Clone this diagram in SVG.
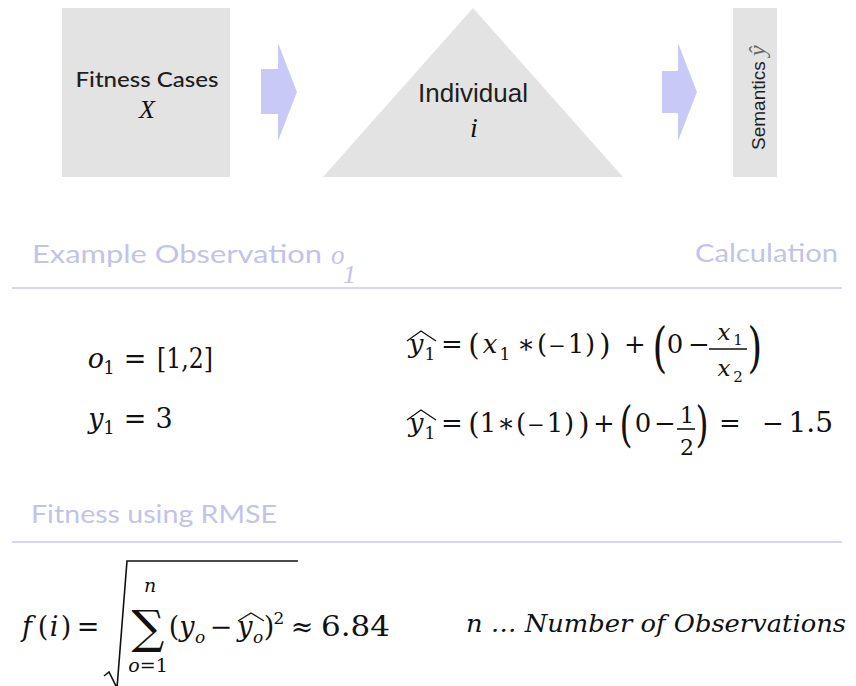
<svg xmlns="http://www.w3.org/2000/svg" width="856" height="686" viewBox="0 0 856 686">
<style>
.box{fill:#e3e3e3}
.arrow{fill:#c9c9f7}
.hdr{font-family:Lato,"Open Sans",sans-serif;font-size:25px;fill:#c3c3ea}
.rule{stroke:#c8c8e6;stroke-width:1.5}
.lbl{font-family:Lato,"Liberation Sans",sans-serif;fill:#1e1e1e}
.hv{font-family:"Liberation Sans",Arial,sans-serif;fill:#1e1e1e}
.m{font-family:"DejaVu Serif","Liberation Serif",serif;fill:#111}
.i{font-style:italic}
.c{text-anchor:middle}
.hat{fill:none;stroke:#111;stroke-width:1.3}
</style>
<rect width="856" height="686" fill="#ffffff"/>

<g id="fitness-cases">
<rect class="box" x="62" y="8" width="168" height="169"/>
<text class="lbl c" x="147" y="87" font-size="22" font-weight="500" textLength="143" lengthAdjust="spacingAndGlyphs">Fitness Cases</text>
<text class="m i c" x="147" y="118" font-size="26" fill="#333" style="font-family:'Liberation Serif',serif">X</text>
</g>

<g id="individual">
<polygon class="box" points="473,8 623,177 323,177"/>
<text class="hv c" x="473" y="102" font-size="26">Individual</text>
<text class="m i c" x="474" y="137" font-size="28" fill="#333" style="font-family:'Liberation Serif',serif">i</text>
</g>

<g id="semantics">
<rect class="box" x="733" y="8" width="44" height="169"/>
<text class="hv" transform="translate(765,150) rotate(-90)" font-size="19">Semantics <tspan class="i" font-size="24" fill="#666" style="font-family:'Liberation Serif',serif">ŷ</tspan></text>
</g>

<g id="connectors">
<polygon class="arrow" points="261,69 278,69 278,43 297,92 278,141 278,114 261,114"/>
<polygon class="arrow" points="662,71 678,71 678,43 697,92 678,141 678,113 662,113"/>
</g>

<g id="headers">
<text class="hdr" x="32" y="263" textLength="290" lengthAdjust="spacingAndGlyphs">Example Observation</text>
<text class="i" x="331" y="264" font-size="27" fill="#c3c3ea" style="font-family:'Liberation Serif',serif">o</text>
<text class="i" x="343" y="283" font-size="26" fill="#c3c3ea" style="font-family:'Liberation Serif',serif">1</text>
<text class="hdr" x="695" y="262" textLength="143" lengthAdjust="spacingAndGlyphs">Calculation</text>
<line class="rule" x1="12" y1="288" x2="842" y2="288"/>
<text class="hdr" x="31" y="523" textLength="246" lengthAdjust="spacingAndGlyphs">Fitness using RMSE</text>
<line class="rule" x1="12" y1="542" x2="842" y2="542"/>
</g>

<g id="observation" class="m" font-size="27">
<text class="i c" x="96" y="368">o</text>
<text class="c" x="109" y="374" font-size="18">1</text>
<text class="c" x="135" y="368">=</text>
<text x="157" y="368" textLength="56" lengthAdjust="spacingAndGlyphs">[1,2]</text>
<text class="i c" x="96" y="428">y</text>
<text class="c" x="109" y="434" font-size="18">1</text>
<text class="c" x="135" y="428">=</text>
<text class="c" x="164" y="428">3</text>
</g>

<g id="calc1" class="m" font-size="26">
<text class="i c" x="416" y="353">y</text>
<text class="c" x="430" y="360" font-size="17">1</text>
<path class="hat" d="M407,341 L421,331 L436,341"/>
<text class="c" x="452" y="353">=</text>
<text class="c" x="474" y="355" font-size="29">(</text>
<text class="i c" x="490" y="353">x</text>
<text class="c" x="505" y="360" font-size="17">1</text>
<text class="c" x="526" y="353">∗</text>
<text class="c" x="542" y="353">(</text>
<text class="c" x="557" y="353" font-size="21">−</text>
<text class="c" x="576" y="353">1</text>
<text class="c" x="590" y="353">)</text>
<text class="c" x="605" y="355" font-size="29">)</text>
<text class="c" x="635" y="353">+</text>
<text class="c" x="660" y="366" font-size="54" transform="translate(660,0) scale(0.7,1) translate(-660,0)">(</text>
<text class="c" x="675" y="353">0</text>
<text class="c" x="699" y="353">−</text>
<line x1="709" y1="349" x2="747" y2="349" stroke="#111" stroke-width="1.6"/>
<text class="i c" x="724" y="340" font-size="23">x</text>
<text class="c" x="738" y="345" font-size="15">1</text>
<text class="i c" x="724" y="376" font-size="23">x</text>
<text class="c" x="738" y="382" font-size="15">2</text>
<text class="c" x="755" y="366" font-size="54" transform="translate(755,0) scale(0.7,1) translate(-755,0)">)</text>
</g>

<g id="calc2" class="m" font-size="26">
<text class="i c" x="416" y="432">y</text>
<text class="c" x="430" y="439" font-size="17">1</text>
<path class="hat" d="M407,420 L421,410 L436,420"/>
<text class="c" x="452" y="432">=</text>
<text class="c" x="474" y="434" font-size="29">(</text>
<text class="c" x="488" y="432">1</text>
<text class="c" x="506" y="432">∗</text>
<text class="c" x="521" y="432">(</text>
<text class="c" x="536" y="432" font-size="21">−</text>
<text class="c" x="555" y="432">1</text>
<text class="c" x="569" y="432">)</text>
<text class="c" x="584" y="434" font-size="29">)</text>
<text class="c" x="604" y="432">+</text>
<text class="c" x="626" y="441" font-size="48" transform="translate(626,0) scale(0.7,1) translate(-626,0)">(</text>
<text class="c" x="643" y="432">0</text>
<text class="c" x="665" y="432">−</text>
<line x1="677" y1="429" x2="695" y2="429" stroke="#111" stroke-width="1.6"/>
<text class="c" x="687" y="423" font-size="22">1</text>
<text class="c" x="687" y="455" font-size="22">2</text>
<text class="c" x="702" y="441" font-size="48" transform="translate(702,0) scale(0.7,1) translate(-702,0)">)</text>
<text class="c" x="730" y="432">=</text>
<text class="c" x="773" y="432">−</text>
<text x="833" y="432" font-size="28" text-anchor="end">1.5</text>
</g>

<g id="rmse" class="m" font-size="27">
<text class="i c" x="27" y="636">f</text>
<text class="c" x="43" y="636">(</text>
<text class="i c" x="54" y="636">i</text>
<text class="c" x="66" y="636">)</text>
<text class="c" x="88" y="636">=</text>
<path d="M104,676 L109,672 L117,688 L127,561 L298,561" fill="none" stroke="#111" stroke-width="1.6"/>
<text class="c" x="148" y="643" font-size="46">∑</text>
<text class="i c" x="150" y="592" font-size="19">n</text>
<text class="c" x="148" y="672" font-size="19"><tspan class="i">o</tspan>=1</text>
<text class="c" x="174" y="636">(</text>
<text class="i c" x="187" y="636">y</text>
<text class="i c" x="200" y="643" font-size="17">o</text>
<text class="c" x="221" y="636">−</text>
<text class="i c" x="245" y="636">y</text>
<text class="i c" x="258" y="643" font-size="17">o</text>
<path class="hat" d="M238,621 L251,613 L264,621"/>
<text class="c" x="269" y="636">)</text>
<text class="c" x="279" y="624" font-size="17">2</text>
<text class="c" x="302" y="636">≈</text>
<text x="321" y="636" font-size="28" textLength="69" lengthAdjust="spacingAndGlyphs">6.84</text>
</g>

<g id="note">
<text class="m i" x="466" y="632" font-size="24" textLength="380" lengthAdjust="spacingAndGlyphs">n … Number of Observations</text>
</g>
</svg>
